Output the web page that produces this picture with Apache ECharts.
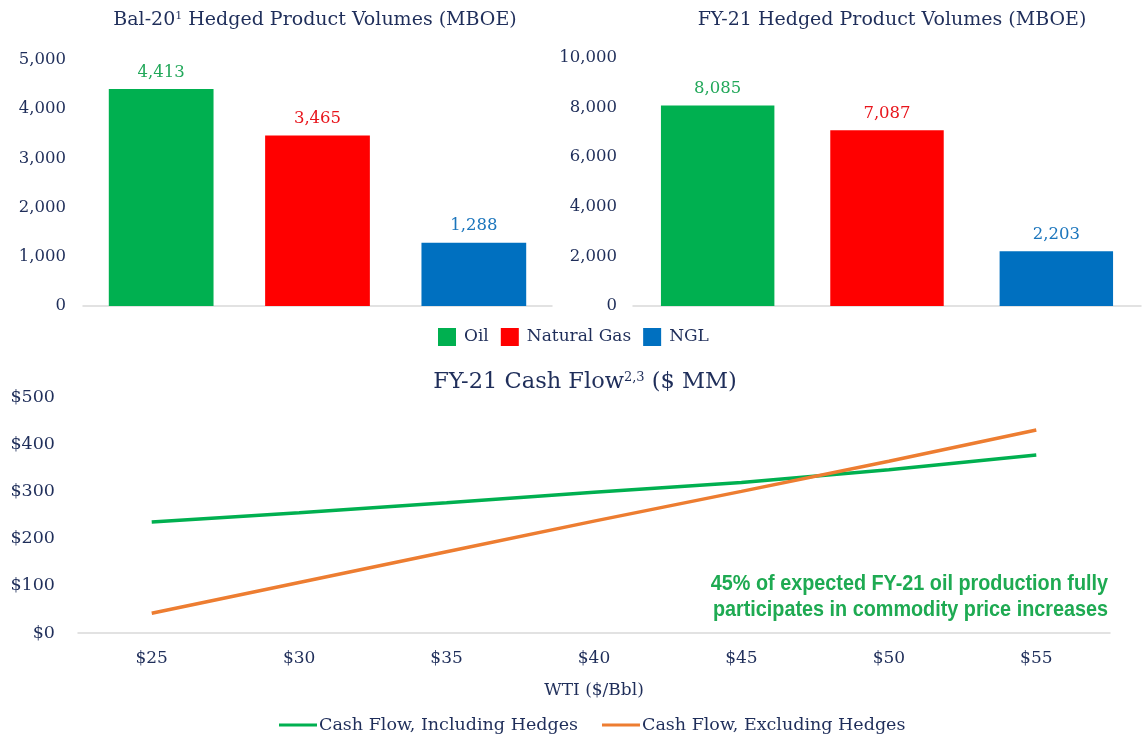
<!DOCTYPE html>
<html>
<head>
<meta charset="utf-8">
<script src="https://cdn.jsdelivr.net/npm/echarts@6/dist/echarts.min.js"></script>
<style>
html,body{margin:0;padding:0;background:#fff;}
#c{width:1143px;height:737px;}
</style>
</head>
<body>
<div id="c"></div>
<script>
// ---- data ----
const products = ['Oil', 'Natural Gas', 'NGL'];
const bal20Volumes = [4413, 3465, 1288];
const fy21Volumes = [8085, 7087, 2203];
const wtiPrices = ['$25', '$30', '$35', '$40', '$45', '$50', '$55'];
const cashFlowIncl = [235, 255, 276, 298, 319, 346, 377];
const cashFlowExcl = [42, 107, 172, 237, 300, 364, 430];
const lineNames = ['Cash Flow, Including Hedges', 'Cash Flow, Excluding Hedges'];
const noteText = '45% of expected FY-21 oil production fully\nparticipates in commodity price increases';

const productColors = ['#00B050', '#FF0000', '#0070C0'];
const labelColors = ['#22A85A', '#E8141B', '#1B75BC'];
const navy = '#1F2E5A';
const serif = 'DejaVu Serif';
const fmt = v => Number(v).toLocaleString('en-US');

function barSeries(values, axisIdx) {
  return products.map((name, i) => ({
    name: name,
    type: 'bar',
    xAxisIndex: axisIdx,
    yAxisIndex: axisIdx,
    stack: 'p' + axisIdx,
    barWidth: '67%',
    itemStyle: { color: productColors[i] },
    label: {
      show: true, position: 'top', distance: 8,
      color: labelColors[i], fontFamily: serif, fontSize: 16.5,
      formatter: p => fmt(p.value)
    },
    data: values.map((v, j) => j === i ? v : '-')
  }));
}

const chart = echarts.init(document.getElementById('c'), null, { renderer: 'canvas' });

const titleRich = {
  a: { fontFamily: serif, fontSize: 19, fontWeight: 'normal', color: navy },
  s: { fontFamily: serif, fontSize: 11, fontWeight: 'normal', color: navy, verticalAlign: 'top', padding: [0, 0, 6, 0] }
};
const titleRich2 = {
  a: { fontFamily: serif, fontSize: 22.5, fontWeight: 'normal', color: navy },
  s: { fontFamily: serif, fontSize: 13, fontWeight: 'normal', color: navy, verticalAlign: 'top', padding: [0, 0, 8, 0] }
};

const option = {
  animation: false,
  backgroundColor: '#ffffff',
  title: [
    { text: '{a|Bal-20}{s|1}{a| Hedged Product Volumes (MBOE)}', left: 310, top: 6, textAlign: 'center',
      textStyle: { fontWeight: 'normal', rich: titleRich } },
    { text: '{a|FY-21 Hedged Product Volumes (MBOE)}', left: 887, top: 6, textAlign: 'center',
      textStyle: { fontWeight: 'normal', rich: titleRich } },
    { text: '{a|FY-21 Cash Flow}{s|2,3}{a| ($ MM)}', left: 580, top: 366, textAlign: 'center',
      textStyle: { fontWeight: 'normal', rich: titleRich2 } }
  ],
  graphic: [
    { type: 'text', x: 1108, y: 571, scaleX: 0.9, silent: true,
      style: { text: noteText, fill: '#1EAA52', font: 'bold 22px "Liberation Sans", Arial, sans-serif',
        textAlign: 'right', lineHeight: 26 } }
  ],
  legend: [
    { data: products, top: 328, left: 438, padding: 0, icon: 'rect', itemWidth: 18, itemHeight: 18,
      itemGap: 12, textStyle: { fontFamily: serif, fontSize: 17, color: navy, padding: [0, 0, 0, 3] } },
    { data: lineNames, top: 716, left: 279, padding: 0, icon: 'rect', itemWidth: 38, itemHeight: 3,
      itemGap: 24, textStyle: { fontFamily: serif, fontSize: 17.5, color: navy, padding: [0, 0, 0, -3] } }
  ],
  grid: [
    { left: 83, right: 591, top: 60, bottom: 431 },
    { left: 633, right: 2, top: 58, bottom: 431 },
    { left: 78, right: 33, top: 397, bottom: 104 }
  ],
  xAxis: [
    { type: 'category', gridIndex: 0, data: products, axisLabel: { show: false }, axisTick: { show: false },
      axisLine: { lineStyle: { color: '#D9D9D9', width: 1.5 } } },
    { type: 'category', gridIndex: 1, data: products, axisLabel: { show: false }, axisTick: { show: false },
      axisLine: { lineStyle: { color: '#D9D9D9', width: 1.5 } } },
    { type: 'category', gridIndex: 2, data: wtiPrices, boundaryGap: true, axisTick: { show: false },
      axisLine: { lineStyle: { color: '#D9D9D9', width: 1.5 } },
      axisLabel: { fontFamily: serif, fontSize: 17, color: navy, margin: 17 },
      name: 'WTI ($/Bbl)', nameLocation: 'middle', nameGap: 49,
      nameTextStyle: { fontFamily: serif, fontSize: 17, color: navy } }
  ],
  yAxis: [
    { type: 'value', gridIndex: 0, min: 0, max: 5000, interval: 1000, splitLine: { show: false },
      axisLine: { show: false }, axisTick: { show: false },
      axisLabel: { fontFamily: serif, fontSize: 16.5, color: navy, margin: 17, formatter: v => fmt(v) } },
    { type: 'value', gridIndex: 1, min: 0, max: 10000, interval: 2000, splitLine: { show: false },
      axisLine: { show: false }, axisTick: { show: false },
      axisLabel: { fontFamily: serif, fontSize: 16.5, color: navy, margin: 16, formatter: v => fmt(v) } },
    { type: 'value', gridIndex: 2, min: 0, max: 500, interval: 100, splitLine: { show: false },
      axisLine: { show: false }, axisTick: { show: false },
      axisLabel: { fontFamily: serif, fontSize: 17.5, color: navy, margin: 23, formatter: v => '$' + v } }
  ],
  series: [
    ...barSeries(bal20Volumes, 0),
    ...barSeries(fy21Volumes, 1),
    { name: lineNames[0], type: 'line', xAxisIndex: 2, yAxisIndex: 2, data: cashFlowIncl,
      symbol: 'none', lineStyle: { color: '#00B050', width: 3.5 }, itemStyle: { color: '#00B050' } },
    { name: lineNames[1], type: 'line', xAxisIndex: 2, yAxisIndex: 2, data: cashFlowExcl,
      symbol: 'none', lineStyle: { color: '#ED7D31', width: 3.5 }, itemStyle: { color: '#ED7D31' } }
  ]
};
chart.setOption(option);
</script>
</body>
</html>
